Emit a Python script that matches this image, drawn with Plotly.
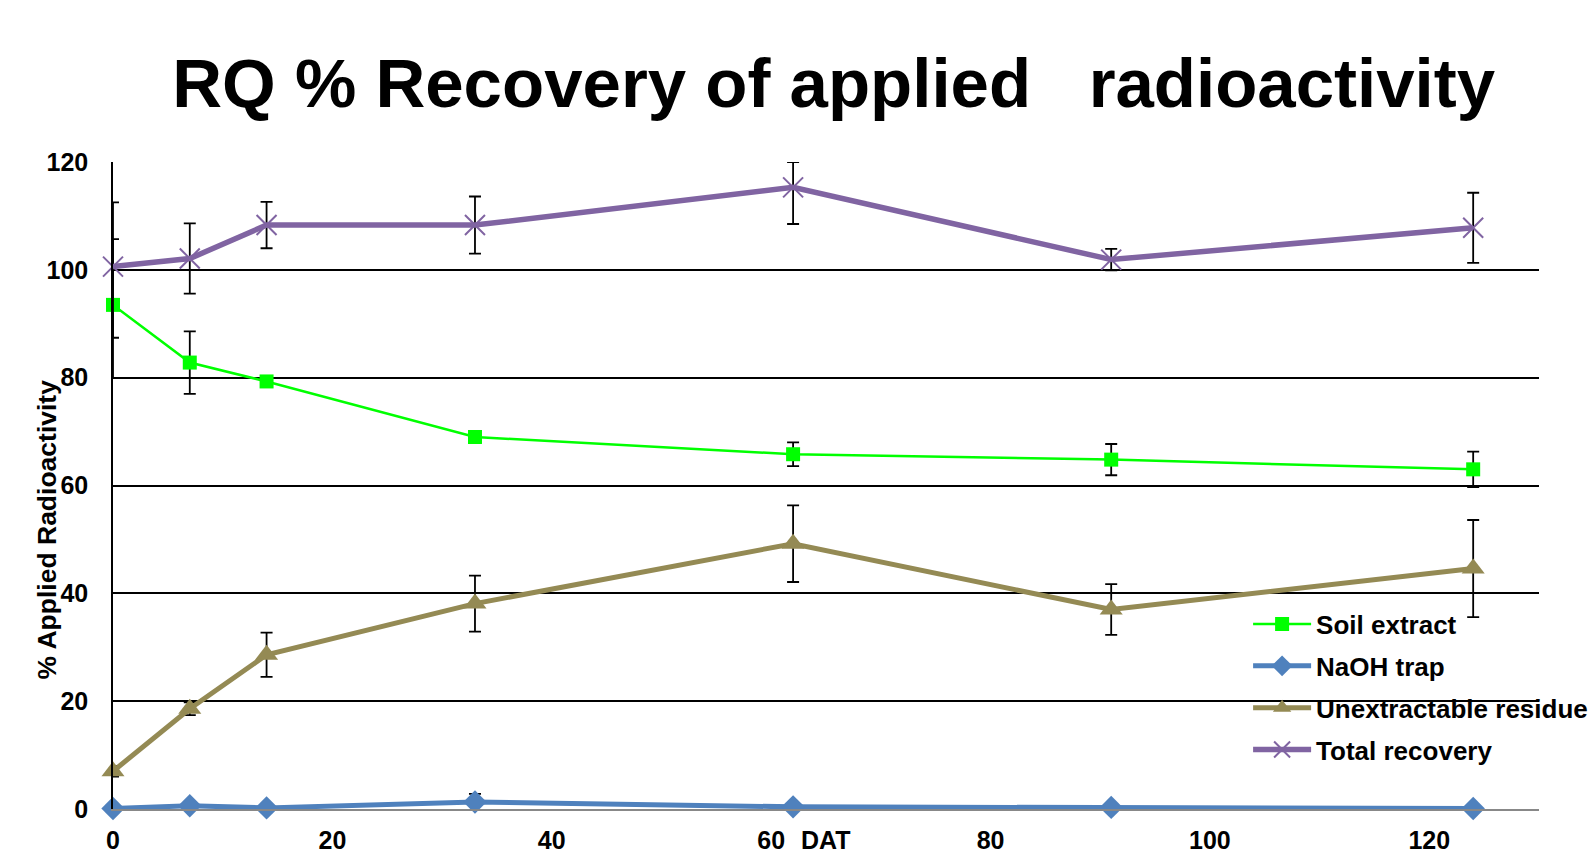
import plotly.graph_objects as go

days = [0, 7, 14, 33, 62, 91, 124]

soil_extract = [93.5, 82.8, 79.3, 69.0, 65.8, 64.8, 63.0]
soil_err_plus = [12.2, 5.8, 1.0, 0.5, 2.2, 2.9, 3.3]
soil_err_minus = [13.6, 5.8, 1.0, 0.5, 2.2, 2.9, 3.3]

naoh_trap = [0.1, 0.6, 0.2, 1.3, 0.4, 0.3, 0.1]
naoh_err = [0.0, 0.3, 0.2, 1.5, 0.2, 0.2, 0.1]

unextractable = [7.0, 18.6, 28.6, 38.1, 49.2, 37.0, 44.6]
unext_err = [1.0, 1.2, 4.1, 5.2, 7.1, 4.7, 9.0]

total_recovery = [100.6, 102.1, 108.3, 108.3, 115.3, 101.9, 107.8]
total_err_plus = [11.9, 6.5, 4.3, 5.3, 4.7, 2.0, 6.5]
total_err_minus = [13.2, 6.5, 4.3, 5.3, 6.8, 2.0, 6.5]

x_ticks = [0, 20, 40, 60, 80, 100, 120]
x_tick_labels = ["0", "20", "40", "60", "80", "100", "120"]
x_unit_label = "DAT"
y_ticks = [0, 20, 40, 60, 80, 100, 120]

font = "Liberation Sans, Arial, sans-serif"

def err(plus, minus=None):
    d = dict(type="data", array=plus, color="black", thickness=1.8, width=6, visible=True)
    if minus is not None:
        d["symmetric"] = False
        d["arrayminus"] = minus
    return d

fig = go.Figure()

fig.add_trace(go.Scatter(
    x=days, y=soil_extract, name="Soil extract", mode="lines+markers",
    line=dict(color="#00FF00", width=2.5),
    marker=dict(symbol="square", size=14, color="#00FF00"),
    error_y=err(soil_err_plus, soil_err_minus), legendgroup="a", cliponaxis=False))

fig.add_trace(go.Scatter(
    x=days, y=naoh_trap, name="NaOH trap", mode="lines+markers",
    line=dict(color="#4F81BD", width=5),
    marker=dict(symbol="diamond", size=18, color="#4F81BD"),
    error_y=err(naoh_err), legendgroup="b", cliponaxis=False))

fig.add_trace(go.Scatter(
    x=days, y=unextractable, name="Unextractable residue", mode="lines+markers",
    line=dict(color="#948A54", width=5),
    marker=dict(symbol="triangle-up", size=20, color="#948A54"),
    error_y=err(unext_err), legendgroup="c", cliponaxis=False))

fig.add_trace(go.Scatter(
    x=days, y=total_recovery, name="Total recovery", mode="lines+markers",
    line=dict(color="#8064A2", width=5.5),
    marker=dict(symbol="x-thin", size=20, color="#8064A2",
                line=dict(color="#8064A2", width=2)),
    error_y=err(total_err_plus, total_err_minus), legendgroup="d", cliponaxis=False))

fig.update_layout(
    width=1591, height=864,
    margin=dict(l=113, r=52, t=162, b=55, autoexpand=False),
    paper_bgcolor="white", plot_bgcolor="white",
    font=dict(family=font, color="black"),
    title=dict(text="<b>RQ % Recovery of applied\u00a0\u00a0\u00a0radioactivity</b>",
               x=0.524, y=0.904, xanchor="center", yanchor="middle", xref="container",
               font=dict(size=69, family=font, color="black")),
    xaxis=dict(range=[0, 130], tickvals=x_ticks, ticktext=x_tick_labels,
               showgrid=False, zeroline=False, showline=True, linecolor="#888888",
               linewidth=1.5, ticks="", automargin=False,
               tickfont=dict(size=25, family=font, weight="bold"),
               ticklabelstandoff=8),
    yaxis=dict(range=[0, 120], tickvals=y_ticks, showgrid=True, gridcolor="black",
               gridwidth=1.5, zeroline=False, showline=True, linecolor="black",
               linewidth=1.5, ticks="", automargin=False,
               tickfont=dict(size=25, family=font, weight="bold"),
               ticklabelstandoff=18),
    legend=dict(x=0.796, y=0.322, xanchor="left", yanchor="top",
                font=dict(size=26, family=font, color="black", weight="bold"),
                bgcolor="rgba(0,0,0,0)", traceorder="grouped", tracegroupgap=5,
                itemwidth=58),
    showlegend=True,
)

fig.add_annotation(text="% Applied Radioactivity", xref="paper", yref="paper",
                   x=-0.0456, y=0.432, textangle=-90, showarrow=False,
                   font=dict(size=26.5, family=font, color="black", weight="bold"),
                   xanchor="center", yanchor="middle")

fig.add_annotation(text=x_unit_label, xref="x", yref="paper",
                   x=65, y=-0.048, showarrow=False,
                   font=dict(size=25, family=font, color="black", weight="bold"),
                   xanchor="center", yanchor="middle")

fig.write_html("out.html", post_script="document.body.style.margin='0px';",
               config={"displayModeBar": False})
